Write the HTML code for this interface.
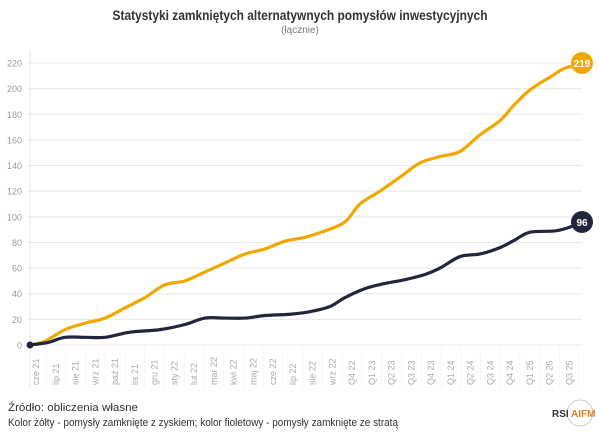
<!DOCTYPE html>
<html><head><meta charset="utf-8"><style>
body{margin:0;background:#fff;width:601px;height:435px;overflow:hidden;font-family:"Liberation Sans",sans-serif;}
</style></head><body>
<svg id="s" width="601" height="435" xmlns="http://www.w3.org/2000/svg" font-family="Liberation Sans, sans-serif">
<text x="300" y="20" text-anchor="middle" font-size="14" font-weight="bold" fill="#333" textLength="375" lengthAdjust="spacingAndGlyphs">Statystyki zamkniętych alternatywnych pomysłów inwestycyjnych</text>
<text x="300" y="33" text-anchor="middle" font-size="10" fill="#777">(łącznie)</text>
<g id="grid"></g>
<line x1="30" y1="50" x2="30" y2="388" stroke="#e4e4e4"/>
<g id="xl"></g>
<path id="g" fill="none" stroke="#F0A800" stroke-width="3.2" stroke-linejoin="round" stroke-linecap="round"/>
<path id="n" fill="none" stroke="#23253d" stroke-width="3.2" stroke-linejoin="round" stroke-linecap="round"/>
<circle cx="30" cy="345" r="3.5" fill="#23253d"/>
<circle cx="582" cy="63" r="11" fill="#F0A800"/>
<text x="582" y="67" text-anchor="middle" font-size="10" font-weight="bold" fill="#fff">219</text>
<circle cx="582" cy="222" r="11" fill="#23253d"/>
<text x="582" y="226" text-anchor="middle" font-size="10" font-weight="bold" fill="#fff">96</text>
<text x="8" y="411" font-size="11" fill="#333" textLength="130" lengthAdjust="spacingAndGlyphs">Źródło: obliczenia własne</text>
<text x="8" y="426" font-size="11" fill="#333" textLength="390" lengthAdjust="spacingAndGlyphs">Kolor żółty - pomysły zamknięte z zyskiem; kolor fioletowy - pomysły zamknięte ze stratą</text>
<circle cx="580" cy="413" r="13" fill="none" stroke="#ccc" stroke-width="1"/>
<text x="552" y="417" font-size="10" font-weight="bold" fill="#333">RSI</text>
<text x="571" y="417" font-size="10" font-weight="bold" fill="#E08020">AIFM</text>
</svg>
<script>
var NS="http://www.w3.org/2000/svg";
function Y(v){return 345-v*1.2818;}
var grid=document.getElementById('grid');
for(var v=0;v<=220;v+=20){
 var y=Y(v);
 var l=document.createElementNS(NS,'line');l.setAttribute('x1',27);l.setAttribute('x2',582);l.setAttribute('y1',y);l.setAttribute('y2',y);l.setAttribute('stroke','#e8e8e8');grid.appendChild(l);
 var t=document.createElementNS(NS,'text');t.setAttribute('x',22);t.setAttribute('y',y+3.5);t.setAttribute('text-anchor','end');t.setAttribute('font-size','9');t.setAttribute('fill','#999');t.textContent=v;grid.appendChild(t);
}
var labs=["cze 21","lip 21","sie 21","wrz 21","paź 21","lis 21","gru 21","sty 22","lut 22","mar 22","kwi 22","maj 22","cze 22","lip 22","sie 22","wrz 22","Q4 22","Q1 23","Q2 23","Q3 23","Q4 23","Q1 24","Q2 24","Q3 24","Q4 24","Q1 25","Q2 25","Q3 25"];
var xl=document.getElementById('xl');
for(var i=0;i<labs.length;i++){
 var x=36+i*19.75;
 var t=document.createElementNS(NS,'text');t.setAttribute('transform','translate('+(x+3)+',385) rotate(-90)');t.setAttribute('font-size','9');t.setAttribute('fill','#aaa');t.textContent=labs[i];xl.appendChild(t);
 var l=document.createElementNS(NS,'line');l.setAttribute('x1',x+9.9);l.setAttribute('x2',x+9.9);l.setAttribute('y1',348);l.setAttribute('y2',388);l.setAttribute('stroke','#eee');l.setAttribute('stroke-dasharray','1 1');xl.appendChild(l);
}
function path(pts){
 var d="M"+pts[0][0]+","+Y(pts[0][1]);
 for(var i=0;i<pts.length-1;i++){
  var p0=pts[Math.max(0,i-1)],p1=pts[i],p2=pts[i+1],p3=pts[Math.min(pts.length-1,i+2)];
  var c1x=p1[0]+(p2[0]-p0[0])/6,c1y=Y(p1[1])+(Y(p2[1])-Y(p0[1]))/6;
  var c2x=p2[0]-(p3[0]-p1[0])/6,c2y=Y(p2[1])-(Y(p3[1])-Y(p1[1]))/6;
  d+=" C"+c1x+","+c1y+" "+c2x+","+c2y+" "+p2[0]+","+Y(p2[1]);
 }
 return d;
}
var g=[[30,0],[45,3],[65,12],[85,17],[105,21],[125,29],[145,37],[165,47],[185,50],[205,57],[225,64],[245,71],[265,75],[285,81],[305,84],[325,89],[345,96],[360,110],[380,120],[400,131],[420,142],[440,147],[460,151],[480,164],[500,175],[515,188],[530,199],[550,209],[565,216],[582,219]];
var n=[[30,0],[48,2],[65,6],[85,6],[105,6],[130,10],[160,12],[185,16],[205,21],[225,21],[245,21],[265,23],[290,24],[310,26],[330,30],[345,37],[365,44],[385,48],[405,51],[425,55],[440,60],[460,69],[480,71],[500,76],[515,82],[530,88],[555,89],[570,92],[582,96]];
document.getElementById('g').setAttribute('d',path(g));
document.getElementById('n').setAttribute('d',path(n));
</script>
</body></html>
